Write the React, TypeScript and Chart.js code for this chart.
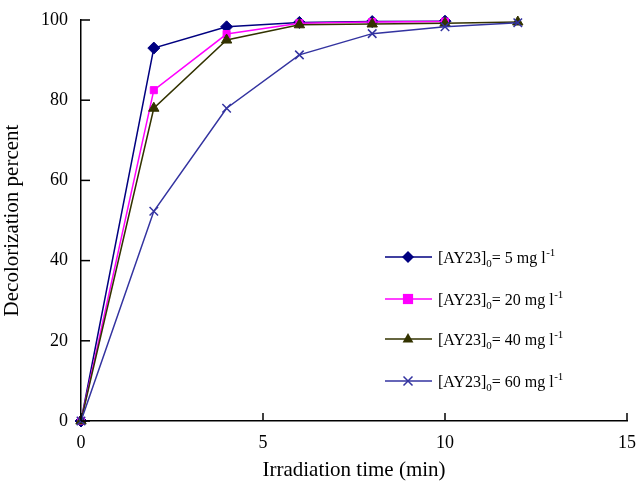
import React, { useEffect, useRef } from "react";
import { Chart, registerables } from "chart.js";
Chart.register(...registerables);

const times = [0, 2, 4, 6, 8, 10, 12];
const s5 = [0, 93, 98.3, 99.4, 99.6, 99.7];
const s20 = [0, 82.5, 96.5, 99.2, 99.5, 99.6];
const s40 = [0, 78, 95, 98.8, 99, 99.2, 99.5];
const s60 = [0, 52.3, 78, 91.3, 96.6, 98.3, 99.3];
const concentrations = ["5", "20", "40", "60"];
const colors = ["#000080", "#FF00FF", "#333300", "#3333A0"];
const markers = ["rectRot", "rect", "triangle", "crossRot"];
const xTitle = "Irradiation time (min)";
const yTitle = "Decolorization percent";

const FONT = "'Liberation Serif', 'Times New Roman', serif";

function drawMarker(ctx: CanvasRenderingContext2D, style: string, x: number, y: number, r: number, color: string) {
  ctx.save();
  ctx.fillStyle = color;
  ctx.strokeStyle = color;
  ctx.lineWidth = 1.5;
  ctx.beginPath();
  if (style === "rectRot") {
    ctx.moveTo(x, y - r);
    ctx.lineTo(x + r, y);
    ctx.lineTo(x, y + r);
    ctx.lineTo(x - r, y);
    ctx.closePath();
    ctx.fill();
  } else if (style === "rect") {
    const s = r * 0.85;
    ctx.rect(x - s, y - s, 2 * s, 2 * s);
    ctx.fill();
  } else if (style === "triangle") {
    ctx.moveTo(x, y - r);
    ctx.lineTo(x + r * 0.9, y + r * 0.6);
    ctx.lineTo(x - r * 0.9, y + r * 0.6);
    ctx.closePath();
    ctx.fill();
  } else {
    const s = r * 0.75;
    ctx.moveTo(x - s, y - s);
    ctx.lineTo(x + s, y + s);
    ctx.moveTo(x + s, y - s);
    ctx.lineTo(x - s, y + s);
    ctx.stroke();
  }
  ctx.restore();
}

const customPlugin = {
  id: "custom",
  afterDraw(chart: any) {
    const ctx: CanvasRenderingContext2D = chart.ctx;
    const xs = chart.scales.x;
    const ys = chart.scales.y;
    ctx.save();
    ctx.strokeStyle = "#000";
    ctx.lineWidth = 1.5;
    // inward ticks
    xs.ticks.forEach((t: any) => {
      const px = xs.getPixelForValue(t.value);
      ctx.beginPath();
      ctx.moveTo(px, ys.bottom);
      ctx.lineTo(px, ys.bottom - 8);
      ctx.stroke();
    });
    ys.ticks.forEach((t: any) => {
      const py = ys.getPixelForValue(t.value);
      ctx.beginPath();
      ctx.moveTo(xs.left, py);
      ctx.lineTo(xs.left + 9, py);
      ctx.stroke();
    });
    // legend
    const rows = [257, 299, 339, 381];
    concentrations.forEach((c, i) => {
      const y = rows[i];
      ctx.strokeStyle = colors[i];
      ctx.lineWidth = 1.5;
      ctx.beginPath();
      ctx.moveTo(385, y);
      ctx.lineTo(432, y);
      ctx.stroke();
      drawMarker(ctx, markers[i], 408, y, 6, colors[i]);
      ctx.fillStyle = "#000";
      ctx.textBaseline = "alphabetic";
      ctx.textAlign = "left";
      let x = 438;
      const base = y + 6;
      ctx.font = `16px ${FONT}`;
      const a = "[AY23]";
      ctx.fillText(a, x, base);
      x += ctx.measureText(a).width;
      ctx.font = `11px ${FONT}`;
      ctx.fillText("0", x, base + 4);
      x += ctx.measureText("0").width;
      ctx.font = `16px ${FONT}`;
      const b = `= ${c} mg l`;
      ctx.fillText(b, x, base);
      x += ctx.measureText(b).width;
      ctx.font = `11px ${FONT}`;
      ctx.fillText("-1", x + 0.5, base - 7);
    });
    ctx.restore();
  },
};

export default function App() {
  const ref = useRef<HTMLCanvasElement>(null);
  useEffect(() => {
    if (!ref.current) return;
    const series = [s5, s20, s40, s60];
    const chart = new Chart(ref.current, {
      type: "line",
      data: {
        datasets: series.map((s, i) => ({
          label: `[AY23]0= ${concentrations[i]} mg l-1`,
          data: s.map((v, j) => ({ x: times[j], y: v })),
          borderColor: colors[i],
          backgroundColor: colors[i],
          borderWidth: 1.5,
          pointStyle: markers[i] as any,
          pointRadius: markers[i] === "rect" ? 5 : 6,
          pointBorderWidth: markers[i] === "crossRot" ? 1.5 : 1,
          pointBorderColor: colors[i],
          pointBackgroundColor: colors[i],
          tension: 0,
          clip: false as any,
          order: 3 - i,
        })),
      },
      options: {
        responsive: false,
        animation: false,
        layout: { padding: { top: 20, right: 11, left: 0, bottom: 0 } },
        plugins: { legend: { display: false }, tooltip: { enabled: false } },
        scales: {
          x: {
            type: "linear",
            min: 0,
            max: 15,
            ticks: { stepSize: 5, color: "#000", font: { family: FONT, size: 18 }, padding: 11 },
            grid: { display: false, drawTicks: false },
            border: { display: true, color: "#000", width: 1.5 },
            title: { display: true, text: xTitle, color: "#000", font: { family: FONT, size: 21 }, padding: { top: 0, bottom: -2 } },
            afterFit: (s: any) => {
              s.height = 60;
              s.paddingLeft = 0;
              s.paddingRight = 0;
            },
          },
          y: {
            min: 0,
            max: 100,
            ticks: { stepSize: 20, color: "#000", font: { family: FONT, size: 18 }, padding: 13 },
            grid: { display: false, drawTicks: false },
            border: { display: true, color: "#000", width: 1.5 },
            title: { display: true, text: yTitle, color: "#000", font: { family: FONT, size: 21 }, padding: { top: 0, bottom: 0 } },
            afterFit: (s: any) => {
              s.width = 81;
              s.paddingTop = 0;
              s.paddingBottom = 0;
            },
          },
        },
      },
      plugins: [customPlugin],
    });
    return () => chart.destroy();
  }, []);
  return (
    <div style={{ position: "fixed", left: 0, top: 0, width: 638, height: 481, background: "#fff" }}>
      <canvas ref={ref} width={638} height={481} />
    </div>
  );
}
